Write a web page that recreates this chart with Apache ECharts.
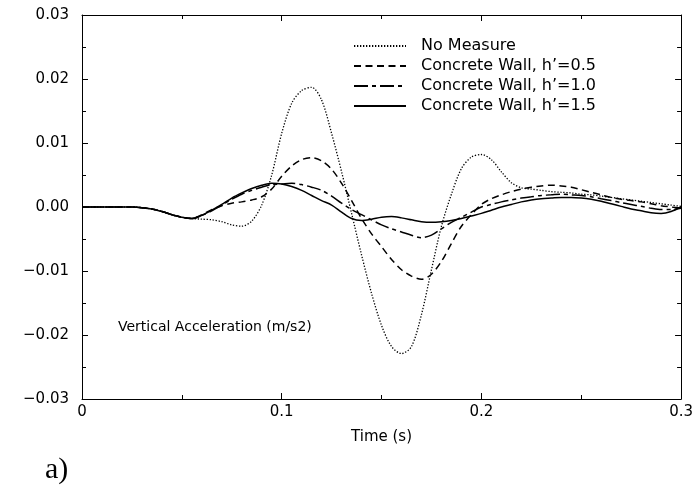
<!DOCTYPE html>
<html>
<head>
<meta charset="utf-8">
<script src="https://cdn.jsdelivr.net/npm/echarts@6/dist/echarts.min.js"></script>
<style>html,body{margin:0;padding:0;background:#fff}#c{width:696px;height:488px}</style>
</head>
<body>
<div id="c"></div>
<script>
// time (s), step 0.005 from 0 to 0.3
const time = [0,0.005,0.01,0.015,0.02,0.025,0.03,0.035,0.04,0.045,0.05,0.055,0.06,0.065,0.07,0.075,0.08,0.085,0.09,0.095,0.1,0.105,0.11,0.115,0.12,0.125,0.13,0.135,0.14,0.145,0.15,0.155,0.16,0.165,0.17,0.175,0.18,0.185,0.19,0.195,0.2,0.205,0.21,0.215,0.22,0.225,0.23,0.235,0.24,0.245,0.25,0.255,0.26,0.265,0.27,0.275,0.28,0.285,0.29,0.295,0.3];

const noMeasure = [0,0,0,0,0,0,-0.0001,-0.0003,-0.0007,-0.0012,-0.0016,-0.0018,
  -0.0019,-0.002,-0.0023,-0.0028,-0.003,-0.0022,0.0003,0.005,0.0115,0.0162,0.0182,0.0187,0.0167,0.0115,0.0055,-0.001,-0.0075,-0.0135,-0.0185,-0.0218,-0.0229,-0.0218,-0.0168,-0.0098,-0.003,0.002,0.006,0.0078,0.0082,0.0074,0.0055,0.0038,0.003,0.0028,0.0026,0.0024,0.0023,0.0022,0.002,0.0019,0.0017,0.0015,0.0013,0.0011,0.0009,0.0007,0.0005,0.0003,0.0001];

const wall05 = [0,0,0,0,0,0,-0.0001,-0.0003,-0.0007,-0.0012,-0.0016,-0.0018,
  -0.0012,-0.0004,0.0002,0.0006,0.0008,0.0011,0.0016,0.0028,0.0048,0.0064,0.0074,0.0077,0.0072,0.0059,0.0037,0.001,-0.0018,-0.0042,-0.0062,-0.0082,-0.0098,-0.0108,-0.0113,-0.0105,-0.0085,-0.0057,-0.003,-0.0012,0.0004,0.0013,0.0019,0.0024,0.0028,0.0031,0.0033,0.0034,0.0033,0.0031,0.0027,0.0023,0.0019,0.0015,0.0012,0.001,0.0008,0.0005,0.0002,0,-0.0002];

const wall10 = [0,0,0,0,0,0,-0.0001,-0.0003,-0.0007,-0.0012,-0.0016,-0.0018,
  -0.0013,-0.0006,0.0003,0.0012,0.002,0.0026,0.0031,0.0035,0.0036,0.0037,0.0035,0.0031,0.0026,0.0017,0.0006,-0.0004,-0.0012,-0.002,-0.0028,-0.0034,-0.0039,-0.0044,-0.0048,-0.0044,-0.0034,-0.0024,-0.0016,-0.0008,0,0.0004,0.0008,0.0011,0.0014,0.0016,0.0018,0.0019,0.002,0.0019,0.0018,0.0016,0.0013,0.001,0.0007,0.0004,0.0001,-0.0002,-0.0004,-0.0004,-0.0002];

const wall15 = [0,0,0,0,0,0,-0.0001,-0.0003,-0.0007,-0.0012,-0.0016,-0.0018,
  -0.0013,-0.0005,0.0004,0.0014,0.0022,0.0029,0.0034,0.0037,0.0036,0.0032,0.0026,0.0018,0.001,0.0003,-0.0008,-0.0018,-0.0021,-0.0019,-0.0016,-0.0015,-0.0017,-0.002,-0.0023,-0.0024,-0.0023,-0.0021,-0.0018,-0.0014,-0.001,-0.0005,0,0.0004,0.0008,0.0011,0.0013,0.0014,0.0015,0.0015,0.0014,0.0012,0.0009,0.0005,0.0001,-0.0003,-0.0006,-0.0009,-0.001,-0.0007,0];

const seriesNames = ['No Measure', 'Concrete Wall, h\u2019=0.5', 'Concrete Wall, h\u2019=1.0', 'Concrete Wall, h\u2019=1.5'];
const seriesValues = [noMeasure, wall05, wall10, wall15];
const xTicks = [0, 0.1, 0.2, 0.3];
const yTicks = [-0.03, -0.02, -0.01, 0, 0.01, 0.02, 0.03];
const xTitle = 'Time (s)';
const noteText = 'Vertical Acceleration (m/s2)';
const panelLabel = 'a)';

const lineTypes = [[1.3, 1.7], [7, 4.5], [14, 4, 4, 4], 'solid'];
const lineWidths = [1.3, 1.5, 1.5, 1.5];
const FONT = 'DejaVu Sans';

const chart = echarts.init(document.getElementById('c'), null, {renderer: 'canvas'});

function yFmt(v) {
  if (Math.abs(v) < 1e-9) return '0.00';
  return (v < 0 ? '\u2212' : '') + Math.abs(v).toFixed(2);
}
function xFmt(v) {
  if (Math.abs(v) < 1e-9) return '0';
  return v.toFixed(1);
}

function axisCommon() {
  return {
    axisLine: {show: true, onZero: false, lineStyle: {color: '#000', width: 1}},
    axisTick: {show: true, inside: true, length: 6, lineStyle: {color: '#000', width: 1}},
    minorTick: {show: true, splitNumber: 2, length: 4, lineStyle: {color: '#000', width: 1}},
    splitLine: {show: false},
    minorSplitLine: {show: false}
  };
}

chart.setOption({
  animation: false,
  backgroundColor: '#fff',
  grid: {left: 82, right: 14, top: 15, bottom: 89},
  xAxis: [
    Object.assign({
      type: 'value', min: xTicks[0], max: xTicks[xTicks.length - 1], interval: 0.1, position: 'bottom',
      name: xTitle, nameLocation: 'middle', nameGap: 31,
      nameTextStyle: {fontFamily: FONT, fontSize: 15, color: '#000'},
      axisLabel: {show: true, margin: 6, fontFamily: FONT, fontSize: 15, color: '#000', formatter: xFmt, showMaxLabel: true, showMinLabel: true}
    }, axisCommon()),
    Object.assign({
      type: 'value', min: xTicks[0], max: xTicks[xTicks.length - 1], interval: 0.1, position: 'top',
      axisLabel: {show: false}
    }, axisCommon())
  ],
  yAxis: [
    Object.assign({
      type: 'value', min: yTicks[0], max: yTicks[yTicks.length - 1], interval: 0.01, position: 'left',
      axisLabel: {show: true, margin: 13, fontFamily: FONT, fontSize: 15, color: '#000', formatter: yFmt, showMaxLabel: true, showMinLabel: true}
    }, axisCommon()),
    Object.assign({
      type: 'value', min: yTicks[0], max: yTicks[yTicks.length - 1], interval: 0.01, position: 'right',
      axisLabel: {show: false}
    }, axisCommon())
  ],
  legend: {
    show: true,
    orient: 'vertical',
    left: 348,
    top: 33,
    itemWidth: 52,
    itemHeight: 12,
    itemGap: 4,
    selectedMode: false,
    itemStyle: {opacity: 0},
    textStyle: {fontFamily: FONT, fontSize: 16, color: '#000', padding: [0, 0, 0, 10]},
    data: seriesNames
  },
  graphic: [
    {type: 'text', left: 118, top: 320, style: {text: noteText, fontFamily: FONT, fontSize: 14, fill: '#000'}},
    {type: 'text', left: 45, top: 455, style: {text: panelLabel, fontFamily: 'Liberation Serif', fontSize: 30, fill: '#000'}}
  ],
  series: seriesNames.map((n, i) => ({
    name: n,
    type: 'line',
    xAxisIndex: 0,
    yAxisIndex: 0,
    data: time.map((t, k) => [t, seriesValues[i][k]]),
    showSymbol: false,
    symbol: 'none',
    smooth: 0.3,
    color: '#000',
    lineStyle: {color: '#000', type: lineTypes[i], width: lineWidths[i]},
    itemStyle: {color: '#000'},
    z: 4 - i
  }))
});
</script>
</body>
</html>
